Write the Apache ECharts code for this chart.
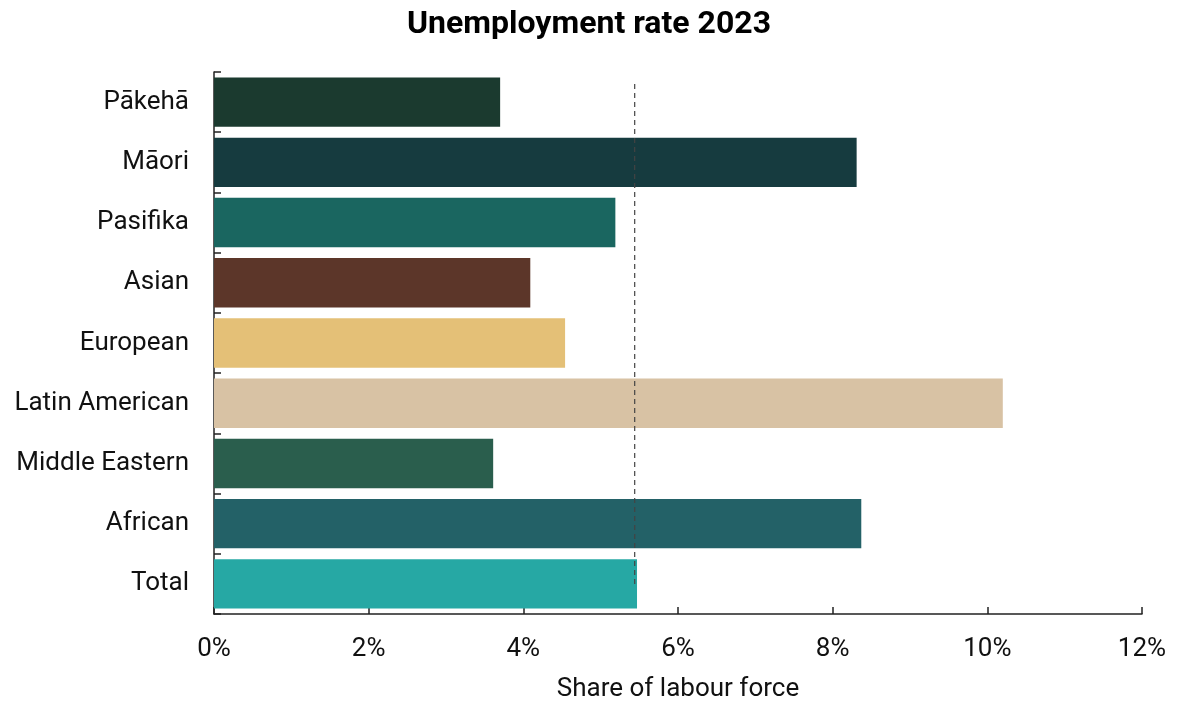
<!DOCTYPE html>
<html>
<head>
<meta charset="utf-8">
<script src="https://cdn.jsdelivr.net/npm/echarts@6/dist/echarts.min.js"></script>
<style>html,body{margin:0;padding:0;background:#fff}#c{width:1178px;height:704px}</style>
</head>
<body>
<div id="c"></div>
<script>
const categories = ['Pākehā','Māori','Pasifika','Asian','European','Latin American','Middle Eastern','African','Total'];
const values = [3.70, 8.31, 5.19, 4.09, 4.54, 10.20, 3.61, 8.37, 5.47];
const barColors = ['#1b3a2f','#163b3f','#1a6660','#5c3629','#e4c077','#d8c2a4','#2a5e4d','#236167','#26a8a4'];
const referenceValue = 5.44;
const referenceSpan = [0.2, 8.52];
const xTicks = [0, 2, 4, 6, 8, 10, 12];

const chart = echarts.init(document.getElementById('c'), null, {renderer:'canvas'});
const font = 'Roboto';
chart.setOption({
  animation: false,
  textStyle: {fontFamily: font},
  title: {
    text: 'Unemployment rate 2023', left: 'center', top: 4,
    textStyle: {fontFamily: font, fontSize: 32, fontWeight: 'bold', color: '#000'}
  },
  grid: {left: 214, right: 36, top: 72, bottom: 90, containLabel: false, outerBoundsMode: 'none'},
  xAxis: {
    type: 'value', position: 'bottom', min: xTicks[0], max: xTicks[xTicks.length-1], interval: 2,
    name: 'Share of labour force', nameLocation: 'middle', nameGap: 62,
    nameTextStyle: {fontFamily: font, fontSize: 26, color: '#111'},
    axisLine: {show: true, onZero: false, lineStyle: {color: '#222', width: 1.5}},
    axisTick: {show: true, inside: true, length: 7, lineStyle: {color: '#222', width: 1.5}},
    axisLabel: {formatter: v => v + '%', fontFamily: font, fontSize: 26, color: '#111', margin: 22},
    splitLine: {show: false}
  },
  yAxis: [{
    type: 'category', data: categories, inverse: true,
    axisLine: {show: true, onZero: false, lineStyle: {color: '#222', width: 1.5}},
    axisTick: {show: true, inside: true, length: 7, lineStyle: {color: '#222', width: 1.5}},
    axisLabel: {fontFamily: font, fontSize: 26, color: '#111', margin: 25}
  }, {
    type: 'value', min: 0, max: categories.length, inverse: true, show: false
  }],
  series: [{
    type: 'bar', yAxisIndex: 0,
    data: values.map((v, i) => ({value: v, itemStyle: {color: barColors[i]}})),
    barCategoryGap: '18%'
  }, {
    type: 'line', yAxisIndex: 1, symbol: 'none', z: 5,
    data: [[referenceValue, referenceSpan[0]], [referenceValue, referenceSpan[1]]],
    lineStyle: {color: '#444', width: 1.2, type: [5, 4]}
  }]
});
</script>
</body>
</html>
